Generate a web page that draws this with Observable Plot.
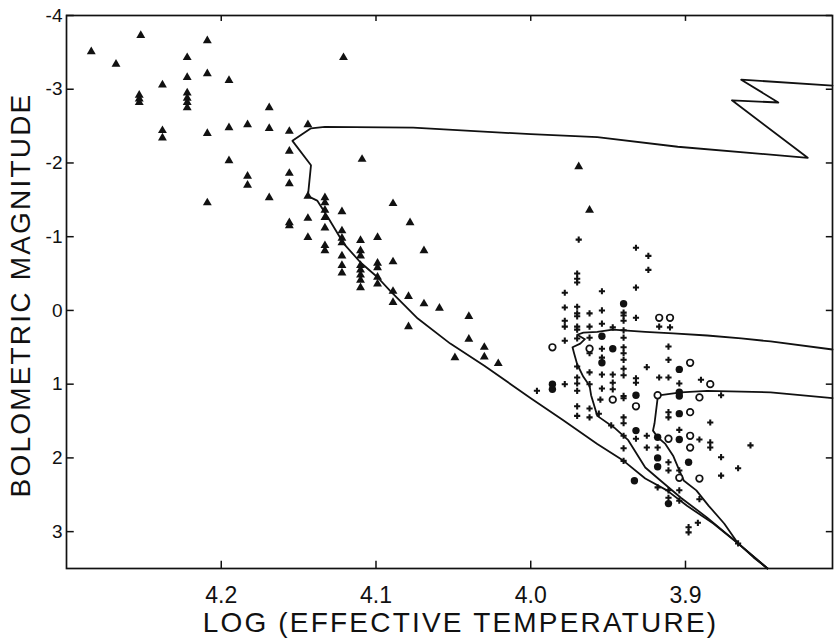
<!DOCTYPE html>
<html><head><meta charset="utf-8">
<script src="https://cdn.jsdelivr.net/npm/d3@7"></script>
<script src="https://cdn.jsdelivr.net/npm/@observablehq/plot@0.6"></script>
<style>body{margin:0;background:#fff} #chart svg{display:block}</style>
</head><body><div id="chart"></div>
<script>
const xTicks = [4.2, 4.1, 4.0, 3.9];
const yTicks = [-4, -3, -2, -1, 0, 1, 2, 3];
const xDomain = [4.3, 3.805];
const yDomain = [3.5, -4];
const xLabel = "LOG (EFFECTIVE TEMPERATURE)";
const yLabel = "BOLOMETRIC MAGNITUDE";

// isochrones [logTeff, Mbol]
const iso1 = [[3.847,3.50],[3.866,3.16],[3.882,2.89],[3.899,2.65],[3.912,2.44],[3.926,2.28],[3.940,2.04],[3.957,1.81],[3.979,1.49],[4.000,1.19],[4.030,0.75],[4.052,0.45],[4.073,0.11],[4.091,-0.27],[4.099,-0.45],[4.110,-0.65],[4.121,-0.91],[4.131,-1.26],[4.138,-1.49],[4.144,-1.55],[4.142,-1.97],[4.154,-2.30],[4.142,-2.47],[4.133,-2.49],[4.076,-2.48],[4.000,-2.39],[3.957,-2.35],[3.905,-2.22],[3.821,-2.07],[3.870,-2.85],[3.840,-2.82],[3.864,-3.13],[3.805,-3.05]];
const iso2 = [[3.847,3.50],[3.866,3.16],[3.886,2.81],[3.903,2.54],[3.916,2.31],[3.926,2.13],[3.937,1.76],[3.946,1.59],[3.957,1.43],[3.961,1.15],[3.962,1.02],[3.966,0.90],[3.970,0.73],[3.972,0.58],[3.973,0.50],[3.968,0.45],[3.965,0.39],[3.970,0.33],[3.966,0.30],[3.957,0.29],[3.947,0.26],[3.926,0.29],[3.908,0.31],[3.886,0.34],[3.864,0.38],[3.845,0.42],[3.805,0.53]];
const iso3 = [[3.847,3.50],[3.856,3.35],[3.866,3.16],[3.875,2.89],[3.885,2.65],[3.893,2.44],[3.901,2.31],[3.904,2.17],[3.908,1.97],[3.913,1.81],[3.918,1.72],[3.921,1.63],[3.920,1.53],[3.919,1.36],[3.918,1.19],[3.916,1.15],[3.903,1.11],[3.886,1.09],[3.845,1.11],[3.805,1.19]];

// early-type stars (triangles)
const triangles = [[4.284,-3.51],[4.268,-3.34],[4.252,-3.73],[4.253,-2.82],[4.253,-2.87],[4.253,-2.92],[4.238,-3.06],[4.238,-2.44],[4.238,-2.34],[4.222,-3.43],[4.222,-3.16],[4.222,-2.95],[4.222,-2.88],[4.222,-2.82],[4.222,-2.75],[4.209,-3.66],[4.209,-3.21],[4.209,-2.40],[4.209,-1.46],[4.195,-3.12],[4.195,-2.48],[4.195,-2.03],[4.183,-2.52],[4.183,-1.82],[4.183,-1.70],[4.169,-2.75],[4.169,-2.47],[4.169,-1.53],[4.156,-2.43],[4.156,-2.16],[4.156,-1.86],[4.156,-1.72],[4.156,-1.19],[4.156,-1.15],[4.144,-2.52],[4.121,-3.43],[4.109,-2.05],[4.144,-1.55],[4.133,-1.53],[4.133,-1.46],[4.144,-1.25],[4.133,-1.36],[4.133,-1.26],[4.133,-1.12],[4.122,-1.34],[4.144,-0.99],[4.122,-1.08],[4.122,-0.98],[4.110,-0.95],[4.099,-0.99],[4.089,-1.45],[4.078,-1.19],[4.133,-0.88],[4.133,-0.81],[4.122,-0.92],[4.122,-0.74],[4.122,-0.61],[4.122,-0.51],[4.110,-0.81],[4.110,-0.74],[4.110,-0.61],[4.110,-0.55],[4.110,-0.48],[4.110,-0.41],[4.110,-0.31],[4.099,-0.64],[4.099,-0.58],[4.099,-0.45],[4.099,-0.36],[4.089,-0.66],[4.089,-0.26],[4.089,-0.11],[4.079,-0.19],[4.079,0.22],[4.069,-0.81],[4.069,-0.09],[4.059,-0.03],[4.040,0.08],[4.040,0.39],[4.049,0.64],[4.030,0.50],[4.030,0.63],[4.021,0.72],[3.969,-1.95],[3.962,-1.36]];

// small dots
const smallDots = [[3.969,-0.96],[3.932,-0.85],[3.924,-0.74],[3.924,-0.55],[3.932,-0.31],[3.970,-0.50],[3.970,-0.43],[3.970,-0.38],[3.978,-0.24],[3.954,-0.26],[3.978,-0.04],[3.970,-0.05],[3.970,0.04],[3.970,0.08],[3.962,0.04],[3.954,0.00],[3.978,0.14],[3.978,0.22],[3.970,0.22],[3.970,0.26],[3.962,0.22],[3.954,0.18],[3.947,0.23],[3.940,0.03],[3.940,0.07],[3.940,0.14],[3.932,0.10],[3.917,0.22],[3.910,0.23],[3.978,0.41],[3.970,0.38],[3.962,0.37],[3.962,0.58],[3.954,0.52],[3.940,0.27],[3.940,0.37],[3.940,0.50],[3.940,0.58],[3.940,0.67],[3.940,0.79],[3.940,0.88],[3.954,0.64],[3.970,0.76],[3.962,0.84],[3.954,0.87],[3.947,0.87],[3.970,0.91],[3.925,0.77],[3.911,0.49],[3.911,0.67],[3.917,0.91],[3.911,0.91],[3.904,0.99],[3.890,0.94],[3.932,0.92],[3.932,0.98],[3.940,1.19],[3.947,0.98],[3.947,1.07],[3.954,1.06],[3.962,1.00],[3.970,0.99],[3.970,1.09],[3.978,1.00],[3.996,1.09],[3.970,1.30],[3.970,1.43],[3.962,1.33],[3.962,1.45],[3.956,1.40],[3.948,1.56],[3.940,1.45],[3.940,1.53],[3.955,1.21],[3.940,1.16],[3.911,1.38],[3.911,1.45],[3.877,1.15],[3.884,1.52],[3.940,1.70],[3.932,1.74],[3.925,1.70],[3.925,1.86],[3.918,1.86],[3.911,2.06],[3.911,2.17],[3.904,1.62],[3.891,1.75],[3.884,1.79],[3.884,1.86],[3.877,1.99],[3.877,2.24],[3.866,2.14],[3.858,1.83],[3.940,1.87],[3.940,2.04],[3.918,2.40],[3.911,2.44],[3.911,2.54],[3.904,2.44],[3.904,2.58],[3.891,2.56],[3.892,2.88],[3.898,2.94],[3.898,3.01],[3.866,3.16],[3.904,2.17]];

// filled circles
const filledCircles = [[3.940,-0.09],[3.954,0.35],[3.947,0.52],[3.954,0.71],[3.986,1.00],[3.986,1.07],[3.932,1.15],[3.904,1.11],[3.904,1.16],[3.904,0.80],[3.904,1.40],[3.932,1.63],[3.918,1.72],[3.904,1.75],[3.898,2.06],[3.918,2.00],[3.918,2.12],[3.933,2.31],[3.911,2.62]];

// open circles
const openCircles = [[3.917,0.10],[3.910,0.10],[3.986,0.50],[3.962,0.52],[3.897,0.71],[3.884,1.00],[3.947,1.21],[3.932,1.30],[3.918,1.15],[3.891,1.18],[3.897,1.38],[3.911,1.74],[3.897,1.70],[3.897,1.86],[3.904,2.27],[3.891,2.28]];

const ink = "#111";
const lx = d => d[0], ly = d => d[1];
const fmtX = d3.format(".1f");

const plot = Plot.plot({
  width: 834, height: 639,
  marginLeft: 66, marginRight: 2, marginTop: 15, marginBottom: 71,
  style: {fontFamily: "'Liberation Sans', Arial, sans-serif", color: ink, background: "#fff"},
  x: {domain: xDomain, axis: null},
  y: {domain: yDomain, axis: null},
  marks: [
    Plot.frame({stroke: ink, strokeWidth: 1.7}),
    Plot.ruleX(xTicks, {x: d => d, y1: yDomain[0], y2: yDomain[0] - 0.1, stroke: ink, strokeWidth: 1.5}),
    Plot.ruleX(xTicks, {x: d => d, y1: yDomain[1], y2: yDomain[1] + 0.08, stroke: ink, strokeWidth: 1.5}),
    Plot.ruleY(yTicks, {y: d => d, x1: xDomain[0], x2: xDomain[0] - 0.005, stroke: ink, strokeWidth: 1.5}),
    Plot.ruleY(yTicks, {y: d => d, x1: xDomain[1], x2: xDomain[1] + 0.004, stroke: ink, strokeWidth: 1.5}),
    Plot.text(xTicks, {x: d => d, text: d => fmtX(d), frameAnchor: "bottom", lineAnchor: "top", textAnchor: "middle", dy: 18, fontSize: 23, fill: ink}),
    Plot.text(yTicks, {y: d => d, text: d => String(d), frameAnchor: "left", lineAnchor: "middle", textAnchor: "end", dx: -4, fontSize: 19, fill: ink}),
    Plot.line(iso1, {x: lx, y: ly, stroke: ink, strokeWidth: 1.8}),
    Plot.line(iso2, {x: lx, y: ly, stroke: ink, strokeWidth: 1.8}),
    Plot.line(iso3, {x: lx, y: ly, stroke: ink, strokeWidth: 1.8}),
    Plot.dot(triangles, {x: lx, y: ly, symbol: "triangle", r: 3.3, fill: ink, stroke: null}),
    Plot.dot(smallDots, {x: lx, y: ly, symbol: "cross", r: 2.6, fill: ink, stroke: null}),
    Plot.dot(filledCircles, {x: lx, y: ly, symbol: "circle", r: 3.7, fill: ink, stroke: null}),
    Plot.dot(openCircles, {x: lx, y: ly, symbol: "circle", r: 3.3, fill: "#fff", stroke: ink, strokeWidth: 1.7}),
    Plot.text([yLabel], {frameAnchor: "left", rotate: -90, textAnchor: "middle", lineAnchor: "middle", dx: -45, dy: 3, fontSize: 28, fill: ink}),
    Plot.text([xLabel], {frameAnchor: "bottom", textAnchor: "middle", lineAnchor: "middle", dx: 11, dy: 55, fontSize: 28, fill: ink})
  ]
});
d3.select(plot).selectAll("text").filter(function(){ return this.textContent === yLabel || this.textContent === xLabel; })
  .attr("letter-spacing", "2.2");
document.getElementById("chart").appendChild(plot);
</script>
</body></html>
